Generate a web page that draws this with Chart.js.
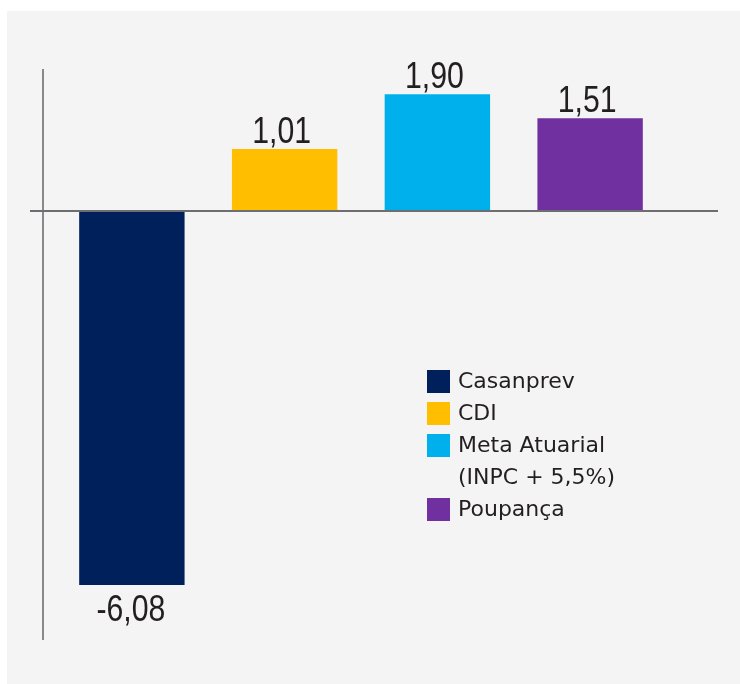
<!DOCTYPE html>
<html>
<head>
<meta charset="utf-8">
<script src="https://cdn.jsdelivr.net/npm/chart.js@4.4.1/dist/chart.umd.min.js"></script>
<style>
  html, body { margin: 0; padding: 0; background: #ffffff; }
  #wrap { position: absolute; left: 0; top: 0; width: 740px; height: 684px; }
</style>
</head>
<body>
<div id="wrap"><canvas id="c" width="740" height="684"></canvas></div>
<script>
const categories = ['Casanprev', 'CDI', 'Meta Atuarial', 'Poupança'];
const values = [-6.08, 1.01, 1.90, 1.51];
const barColors = ['#00205b', '#ffbf00', '#00b0ec', '#7030a0'];
const legendLabels = [['Casanprev'], ['CDI'], ['Meta Atuarial', '(INPC + 5,5%)'], ['Poupança']];

const fmt = v => v.toFixed(2).replace('.', ',');

const decor = {
  id: 'decor',
  beforeDraw(chart) {
    const ctx = chart.ctx;
    ctx.save();
    ctx.fillStyle = '#f4f4f4';
    ctx.fillRect(7, 11, 733, 673);
    ctx.restore();
  },
  afterDatasetsDraw(chart) {
    const ctx = chart.ctx;
    const y = chart.scales.y;
    const y0 = y.getPixelForValue(0);
    ctx.save();
    // vertical axis
    ctx.strokeStyle = '#6d6e71';
    ctx.lineWidth = 1.6;
    ctx.beginPath();
    ctx.moveTo(43, 69);
    ctx.lineTo(43, 640);
    ctx.stroke();
    // zero line
    ctx.lineWidth = 2.2;
    ctx.beginPath();
    ctx.moveTo(30, y0);
    ctx.lineTo(718, y0);
    ctx.stroke();

    // value labels (condensed look via horizontal scaling)
    const meta = chart.getDatasetMeta(0);
    ctx.fillStyle = '#231f20';
    ctx.font = '36px "Liberation Sans", Arial, sans-serif';
    ctx.textAlign = 'center';
    ctx.textBaseline = 'alphabetic';
    const sx = 0.84;
    meta.data.forEach((bar, i) => {
      const v = values[i];
      const ty = v >= 0 ? bar.y - 6 : bar.y + 36;
      const tx = v >= 0 ? bar.x - 3 : bar.x - 1;
      ctx.save();
      ctx.translate(tx, ty);
      ctx.scale(sx, 1);
      ctx.fillText(fmt(v), 0, 0);
      ctx.restore();
    });

    // legend
    ctx.font = '22px "DejaVu Sans", sans-serif';
    ctx.textAlign = 'left';
    ctx.textBaseline = 'middle';
    let ly = 370;
    legendLabels.forEach((lines, i) => {
      ctx.fillStyle = barColors[i];
      ctx.fillRect(427, ly, 23, 23);
      ctx.fillStyle = '#231f20';
      lines.forEach((t, j) => {
        ctx.fillText(t, 458, ly + 12 + j * 32);
      });
      ly += 32 * lines.length;
    });
    ctx.restore();
  }
};

new Chart(document.getElementById('c'), {
  type: 'bar',
  data: {
    labels: categories,
    datasets: [{
      data: values,
      backgroundColor: barColors,
      borderWidth: 0,
      barPercentage: 0.69,
      categoryPercentage: 1.0
    }]
  },
  options: {
    responsive: false,
    animation: false,
    devicePixelRatio: 1,
    layout: { padding: { left: 55.5, right: 73.5, top: 57.25, bottom: 73.25 } },
    plugins: { legend: { display: false }, tooltip: { enabled: false } },
    scales: {
      x: { display: false },
      y: { display: false, min: -6.5, max: 2.5 }
    }
  },
  plugins: [decor]
});
</script>
</body>
</html>
